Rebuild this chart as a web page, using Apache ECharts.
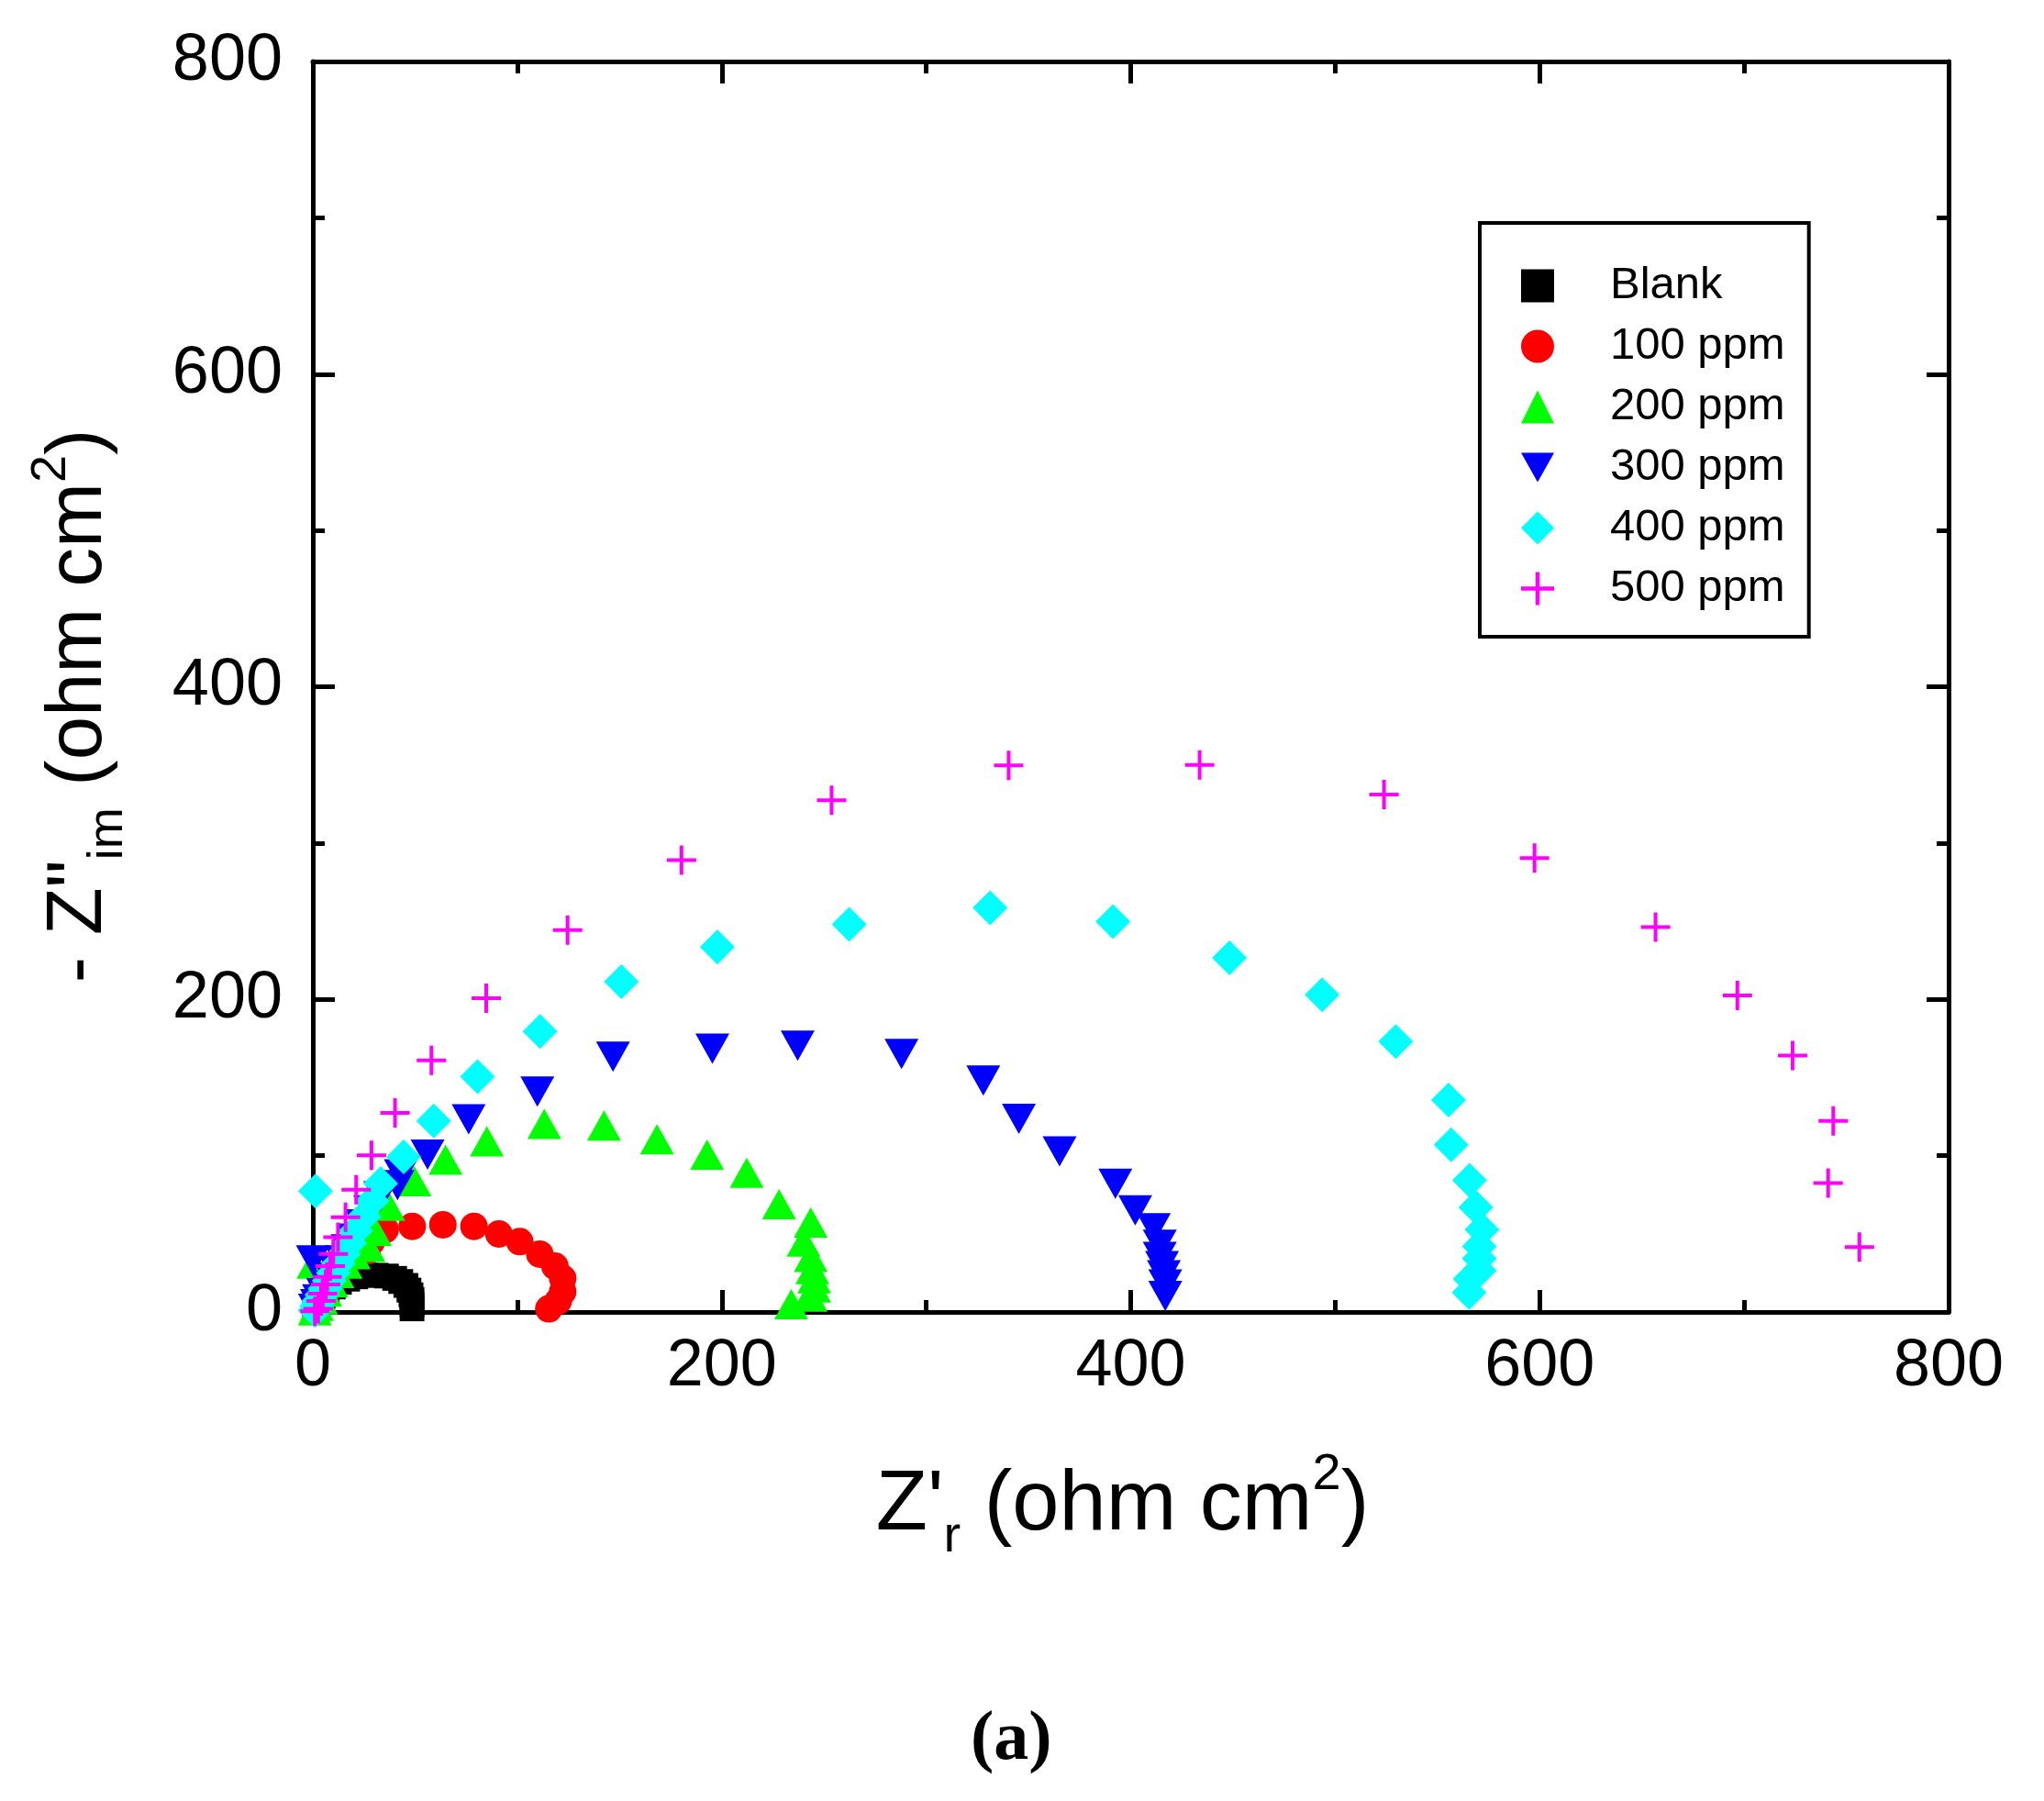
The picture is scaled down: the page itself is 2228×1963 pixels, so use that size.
<!DOCTYPE html>
<html>
<head>
<meta charset="utf-8">
<script src="https://cdn.jsdelivr.net/npm/echarts@6/dist/echarts.min.js"></script>
<style>
  html, body { margin: 0; padding: 0; background: #fff; }
  #main { width: 2228px; height: 1963px; }
</style>
</head>
<body>
<div id="main"></div>
<script>
// Nyquist data, [Z'r, -Z''im] in ohm cm2
var seriesNames = ['Blank', '100 ppm', '200 ppm', '300 ppm', '400 ppm', '500 ppm'];
var xTicks = [0, 200, 400, 600, 800];
var yTicks = [0, 200, 400, 600, 800];

var blank = [[1,1],[2,4],[3,7],[5,10],[7,13],[10,16],[13,19],[17,21],[21,22.5],[26,23.5],[31,23.5],[36,23],[40,21.5],[43,19.5],[45.5,17],[47,14],[48,11],[48.5,8],[48.5,5],[48.5,2]];
var ppm100 = [[1,1],[2,4],[4,8],[6,13],[9,18],[12,24],[16,30],[21,36],[26.5,39],[28.7,45],[35.4,52.8],[48.6,54.8],[63.6,55.8],[78.8,54.8],[91,49.9],[101.2,45],[111,37],[118.4,29.3],[122.2,21.5],[122.2,13],[120,7],[115.4,2]];
var ppm200 = [[0.3,31],[1,1],[2,4],[4,8],[6,13],[9,19],[12,25],[16,31],[20,37],[27.2,41.7],[30.3,51.8],[36.9,68],[49.7,83.7],[64.9,97.4],[85.1,109.2],[113.2,120.3],[142.4,119.3],[168.3,110.5],[192.8,100.7],[212.2,89],[228,69],[243.5,57.3],[240,45],[243.5,35.2],[244.3,27.4],[245.2,21.5],[245.2,15.7],[243.5,9.8],[234,5]];
var ppm300 = [[0,33],[1,2],[2,5],[3,8],[5,12],[7,17],[9,22],[11,27],[14,33],[17,40],[20,47],[24,56],[28,65],[33,74],[41.4,81.2],[43,88],[56.1,100.7],[76.2,123.2],[109.8,141],[146.8,163.3],[195.4,168.5],[237.1,170.3],[287.9,165.1],[327.9,148.1],[345.3,123.6],[365.2,102.7],[392.5,82],[402.2,65],[411.3,53.6],[414.2,43],[414.2,35.2],[415.3,29.3],[416.2,23.5],[416.9,17.6],[416.9,10.3]];
var ppm400 = [[1.3,77.3],[1,1],[2,4],[3,7],[4.5,11],[6,15],[8,20],[10,25],[12.5,31],[15,37],[18,44],[21,52],[25,61],[29,71],[33.2,82.2],[44.4,99.2],[59.1,122.2],[80.5,150.6],[111.1,179.4],[150.9,211.3],[197.8,233.4],[262.3,248],[331.2,258.6],[391.3,249.8],[448.3,226.5],[493.6,202.9],[529.6,173],[555.4,135.6],[556.7,107],[565.7,84.2],[568.8,66.9],[571.8,52.7],[570.5,42],[570.5,34.2],[570.5,26.6],[566,21.1],[565.5,12.5]];
var ppm500 = [[1,0.5],[2.6,2],[4,7],[4.8,11.7],[6.3,17.6],[7,22.5],[8.5,29.3],[10,37.1],[12.3,47.9],[16,60.6],[21.2,78.2],[28.7,100.2],[40.2,127.4],[58,161],[84.8,200.7],[124.6,244.3],[180.3,289],[253.7,327.3],[340.3,349.6],[433.7,350],[523.9,331],[597.5,290.4],[656.7,246.2],[696.7,202.5],[723.7,164.1],[743.6,122.3],[741.1,82.4],[756.4,41.5]];

var FONT = 'Liberation Sans';
var crossPath = 'path://M0,14H32V18H0Z M14,0H18V32H14Z';
var downTriPath = 'path://M0,0H37L18.5,33Z';

var myChart = echarts.init(document.getElementById('main'));

function frameAxis(pos) {
  return {
    type: 'value', position: pos, min: 0, max: 800, interval: 200,
    axisLine: { show: true, onZero: false, lineStyle: { color: '#000', width: 5 } },
    axisTick: { show: true, inside: true, length: 24, lineStyle: { color: '#000', width: 5 } },
    minorTick: { show: true, splitNumber: 2, length: 13, lineStyle: { color: '#000', width: 5 } },
    axisLabel: { show: false },
    splitLine: { show: false }
  };
}

var xMain = frameAxis('bottom');
xMain.axisLabel = { show: true, color: '#000', fontSize: 72, fontFamily: FONT, margin: 24,
  formatter: function (v) { return xTicks.indexOf(v) >= 0 ? String(v) : ''; } };
xMain.name = "Z'{sub|r} (ohm cm{sup|2})";
xMain.nameLocation = 'middle';
xMain.nameGap = 150;
xMain.nameTextStyle = { color: '#000', fontSize: 92, fontFamily: FONT, padding: [0, 18, 0, 0],
  rich: { sub: { fontSize: 56, fontFamily: FONT, color: '#000', padding: [68, 0, 0, 0] },
          sup: { fontSize: 56, fontFamily: FONT, color: '#000', padding: [0, 0, 68, 0] } } };

var yMain = frameAxis('left');
yMain.axisLabel = { show: true, color: '#000', fontSize: 72, fontFamily: FONT, margin: 33,
  formatter: function (v) { return yTicks.indexOf(v) >= 0 ? String(v) : ''; } };
yMain.name = '- Z"{sub|im} (ohm cm{sup|2})';
yMain.nameLocation = 'middle';
yMain.nameRotate = 90;
yMain.nameGap = 196;
yMain.nameTextStyle = { color: '#000', fontSize: 85, fontFamily: FONT, padding: [0, 42, 0, 0],
  rich: { sub: { fontSize: 54, fontFamily: FONT, color: '#000', padding: [62, 0, 0, 0] },
          sup: { fontSize: 54, fontFamily: FONT, color: '#000', padding: [0, 0, 62, 0] } } };

var option = {
  backgroundColor: '#fff',
  animation: false,
  grid: { left: 341, right: 104, top: 67, bottom: 533, containLabel: false, outerBoundsMode: 'none' },
  legend: {
    orient: 'vertical', left: 1613, top: 243,
    padding: [44, 26, 28, 45],
    borderColor: '#000', borderWidth: 4, borderRadius: 0,
    backgroundColor: '#fff',
    itemWidth: 36, itemHeight: 36, itemGap: 17,
    textStyle: { color: '#000', fontSize: 49, fontFamily: FONT, lineHeight: 48, padding: [0, 0, 0, 56] },
    data: seriesNames
  },
  xAxis: [xMain, frameAxis('top')],
  yAxis: [yMain, frameAxis('right')],
  series: [
    { name: seriesNames[0], type: 'scatter', data: blank, symbol: 'rect', symbolSize: 27, itemStyle: { color: '#000000', opacity: 1 } },
    { name: seriesNames[1], type: 'scatter', data: ppm100, symbol: 'circle', symbolSize: 30, itemStyle: { color: '#ff0000', opacity: 1 } },
    { name: seriesNames[2], type: 'scatter', data: ppm200, symbol: 'triangle', symbolSize: [37, 33], itemStyle: { color: '#00ff00', opacity: 1 } },
    { name: seriesNames[3], type: 'scatter', data: ppm300, symbol: downTriPath, symbolSize: [37, 33], itemStyle: { color: '#0000ff', opacity: 1 } },
    { name: seriesNames[4], type: 'scatter', data: ppm400, symbol: 'diamond', symbolSize: 38, itemStyle: { color: '#00ffff', opacity: 1 } },
    { name: seriesNames[5], type: 'scatter', data: ppm500, symbol: crossPath, symbolSize: 32, itemStyle: { color: '#ff00ff', opacity: 1 } }
  ],
  graphic: [{
    type: 'text', left: 1058, top: 1859,
    style: { text: '(a)', fontSize: 76, fontWeight: 'bold', fontFamily: 'Liberation Serif', fill: '#000' }
  }]
};

myChart.setOption(option);
</script>
</body>
</html>
